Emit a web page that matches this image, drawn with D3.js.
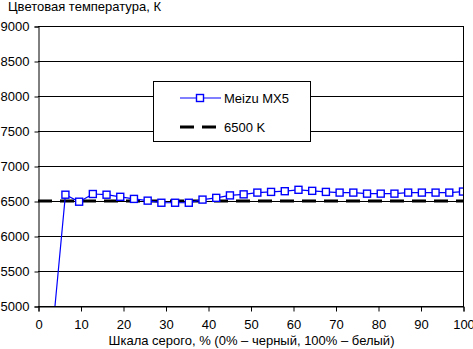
<!DOCTYPE html>
<html><head><meta charset="utf-8">
<script src="https://cdn.jsdelivr.net/npm/d3@7"></script>
<style>
body{margin:0;background:#fff;}
svg text{font-family:"Liberation Sans",Arial,sans-serif;font-size:13px;fill:#000;}
</style></head>
<body><svg id="c" width="473" height="349"></svg>
<script>
const grayLevels = d3.range(32).map(i => i * 100 / 31);
const meizuValues = [null, 4500, 6590, 6490, 6600, 6590, 6560, 6530, 6505, 6475, 6475, 6475, 6520, 6545, 6580, 6595,
  6620, 6630, 6640, 6660, 6645, 6630, 6620, 6620, 6605, 6605, 6605, 6620, 6620, 6620, 6620, 6635];
const refValue = 6500;
const xTicks = [0,10,20,30,40,50,60,70,80,90,100];
const yTicks = [5000,5500,6000,6500,7000,7500,8000,8500,9000];
const seriesNames = ["Meizu MX5", "6500 K"];
const yTitle = "Цветовая температура, К";
const xTitle = "Шкала серого, % (0% – черный, 100% – белый)";

const svg = d3.select("#c");
const L = 38, R = 463, T = 26, B = 306;
const x = d3.scaleLinear().domain([0,100]).range([L,R]);
const y = d3.scaleLinear().domain([5000,9000]).range([B,T]);

svg.append("defs").append("clipPath").attr("id","clip")
  .append("rect").attr("x",L).attr("y",T).attr("width",R-L).attr("height",B-T);

// gridlines
svg.append("g").selectAll("line").data(yTicks).join("line")
  .attr("x1",L).attr("x2",R).attr("y1",d=>Math.round(y(d))+0.5).attr("y2",d=>Math.round(y(d))+0.5)
  .attr("stroke","#000").attr("stroke-width",1);

// y axis
const ya = svg.append("g").attr("transform",`translate(${L+0.5},0.5)`)
  .call(d3.axisLeft(y).tickValues(yTicks).tickSize(4).tickPadding(5).tickFormat(d3.format("d")));
ya.select(".domain").attr("stroke","#000");
ya.selectAll("text").style("font-family","'Liberation Sans',Arial,sans-serif").style("font-size","13px");

// x axis
const xa = svg.append("g").attr("transform",`translate(0.5,${B+0.5})`)
  .call(d3.axisBottom(x).tickValues(xTicks).tickSize(5).tickPadding(8).tickFormat(d3.format("d")));
xa.select(".domain").attr("stroke","#000");
xa.selectAll("text").style("font-family","'Liberation Sans',Arial,sans-serif").style("font-size","13px");

// right border
svg.append("line").attr("x1",R+0.5).attr("x2",R+0.5).attr("y1",T).attr("y2",B+1).attr("stroke","#000");

const plot = svg.append("g").attr("clip-path","url(#clip)");
// reference line
plot.append("line").attr("x1",x(0)).attr("x2",x(100)).attr("y1",y(refValue)).attr("y2",y(refValue))
  .attr("stroke","#000").attr("stroke-width",3).attr("stroke-dasharray","14,8");

const pts = grayLevels.map((g,i)=>({g, v: meizuValues[i]})).filter(d=>d.v!==null);
plot.append("path").datum(pts)
  .attr("d", d3.line().x(d=>x(d.g)).y(d=>y(d.v)))
  .attr("fill","none").attr("stroke","#0000ff").attr("stroke-width",1.2);
plot.selectAll("rect.m").data(pts).join("rect").attr("class","m")
  .attr("x",d=>x(d.g)-3.5).attr("y",d=>y(d.v)-3.5).attr("width",7).attr("height",7)
  .attr("fill","#fff").attr("stroke","#0000ff").attr("stroke-width",1.4);

// legend
const lg = svg.append("g");
lg.append("rect").attr("x",153.5).attr("y",81.5).attr("width",157).attr("height",60)
  .attr("fill","#fff").attr("stroke","#000").attr("stroke-width",1);
lg.append("line").attr("x1",180).attr("x2",221).attr("y1",98).attr("y2",98).attr("stroke","#0000ff").attr("stroke-width",1.2);
lg.append("rect").attr("x",196.5).attr("y",94.5).attr("width",7).attr("height",7)
  .attr("fill","#fff").attr("stroke","#0000ff").attr("stroke-width",1.4);
lg.append("text").attr("x",224).attr("y",102.5).text(seriesNames[0]);
lg.append("line").attr("x1",180).attr("x2",216).attr("y1",127).attr("y2",127)
  .attr("stroke","#000").attr("stroke-width",3).attr("stroke-dasharray","14,8");
lg.append("text").attr("x",224).attr("y",131.5).text(seriesNames[1]);

// titles
svg.append("text").attr("x",8).attr("y",11).text(yTitle);
svg.append("text").attr("x",251.5).attr("y",345).attr("text-anchor","middle").text(xTitle);
</script></body></html>
